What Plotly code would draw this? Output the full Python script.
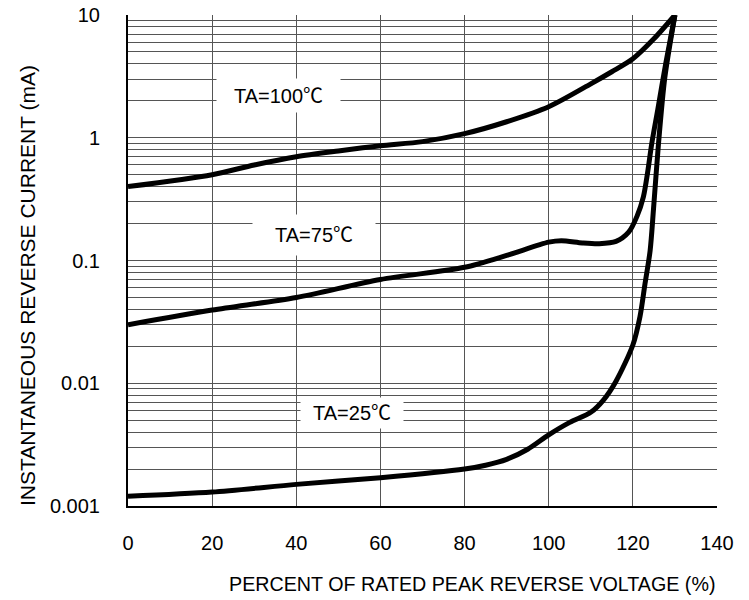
import plotly.graph_objects as go

# ---- data ----
x_100 = [0, 20, 30, 40, 50, 60, 70, 80, 90, 100, 110, 115, 120, 125, 130]
y_100 = [0.4, 0.5, 0.6, 0.7, 0.78, 0.86, 0.93, 1.08, 1.35, 1.79, 2.75, 3.45, 4.4, 6.4, 10]

x_75 = [0, 20, 40, 60, 80, 90, 100, 103, 108, 112, 116, 119, 121, 122.5, 123.5, 124.5, 125.9, 127.8, 130]
y_75 = [0.03, 0.0395, 0.05, 0.07, 0.088, 0.11, 0.141, 0.145, 0.139, 0.137, 0.143, 0.17, 0.23, 0.33, 0.52, 0.9, 1.68, 4.0, 10]

x_25 = [0, 20, 40, 60, 80, 85, 90, 95, 100, 105, 110, 113, 116, 120, 121.7, 122.9, 124.1, 124.9, 126.1, 127.6, 130]
y_25 = [0.0012, 0.0013, 0.0015, 0.0017, 0.002, 0.00215, 0.0024, 0.0029, 0.0038, 0.0048, 0.0058, 0.0073, 0.0104, 0.0205, 0.035, 0.065, 0.12, 0.26, 0.9, 3.1, 10]

curve_labels = ["TA=100\u2103", "TA=75\u2103", "TA=25\u2103"]

x_ticks = [0, 20, 40, 60, 80, 100, 120, 140]
y_major = [0.001, 0.01, 0.1, 1, 10]
y_major_text = ["0.001", "0.01", "0.1", "1", "10"]

x_title = "PERCENT OF RATED PEAK REVERSE VOLTAGE (%)"
y_title = "INSTANTANEOUS REVERSE CURRENT (mA)"

# ---- figure ----
FONT = "'Liberation Sans', Arial, 'Noto Sans CJK SC', sans-serif"

y_grid = []
y_grid_text = []
for d in [0.001, 0.01, 0.1, 1]:
    for m in range(1, 10):
        v = round(d * m, 6)
        y_grid.append(v)
        y_grid_text.append(y_major_text[y_major.index(d)] if m == 1 else "")
y_grid.append(10)
y_grid_text.append("10")

fig = go.Figure()
for xs, ys in [(x_100, y_100), (x_75, y_75), (x_25, y_25)]:
    fig.add_trace(go.Scatter(x=xs, y=ys, mode="lines",
                             line=dict(color="black", width=5, shape="spline", smoothing=0.8),
                             showlegend=False, hoverinfo="skip"))

# label boxes (position in data units, size in px)
label_pos = [(35.8, 0.344, 123, 33), (44.2, -0.792, 122, 40), (53.2, -2.242, 102, 30)]
for txt, (lx, ly, w, h) in zip(curve_labels, label_pos):
    fig.add_annotation(x=lx, y=ly, xref="x", yref="y", text=txt, showarrow=False,
                       bgcolor="white", width=w, height=h, borderpad=0,
                       font=dict(family=FONT, size=20, color="black"))

fig.add_annotation(text=x_title, showarrow=False, xref="paper", yref="paper",
                   x=1.0, y=-0.159, xanchor="right", yanchor="middle",
                   font=dict(family=FONT, size=19.7, color="black"))

fig.add_annotation(text=y_title, showarrow=False, xref="paper", yref="paper",
                   x=-0.1715, y=0.45, textangle=-90, xanchor="center", yanchor="middle",
                   font=dict(family=FONT, size=21, color="black"))

fig.update_layout(
    width=749, height=600,
    margin=dict(l=128, r=32, t=15, b=94, autoexpand=False),
    paper_bgcolor="white", plot_bgcolor="white",
    font=dict(family=FONT, size=20, color="black"),
    hovermode=False,
)
fig.update_xaxes(range=[0, 140], tickvals=x_ticks, ticktext=[str(v) for v in x_ticks],
                 showgrid=True, gridcolor="#555555", gridwidth=1,
                 showline=True, linecolor="black", linewidth=2, mirror=False,
                 ticks="outside", ticklen=18, tickcolor="rgba(0,0,0,0)",
                 ticklabeloverflow="allow",
                 zeroline=False, automargin=False, tickfont=dict(family=FONT, size=20))
fig.update_yaxes(type="log", range=[-3, 1], tickvals=y_grid, ticktext=y_grid_text,
                 showgrid=True, gridcolor="#555555", gridwidth=1,
                 showline=True, linecolor="black", linewidth=2, mirror=False,
                 ticks="outside", ticklen=22, tickcolor="rgba(0,0,0,0)",
                 ticklabeloverflow="allow",
                 zeroline=False, automargin=False, tickfont=dict(family=FONT, size=20))

fig.write_html("out.html", config={"displayModeBar": False, "staticPlot": True},
               post_script="document.body.style.margin='0';document.body.style.overflow='hidden';")
